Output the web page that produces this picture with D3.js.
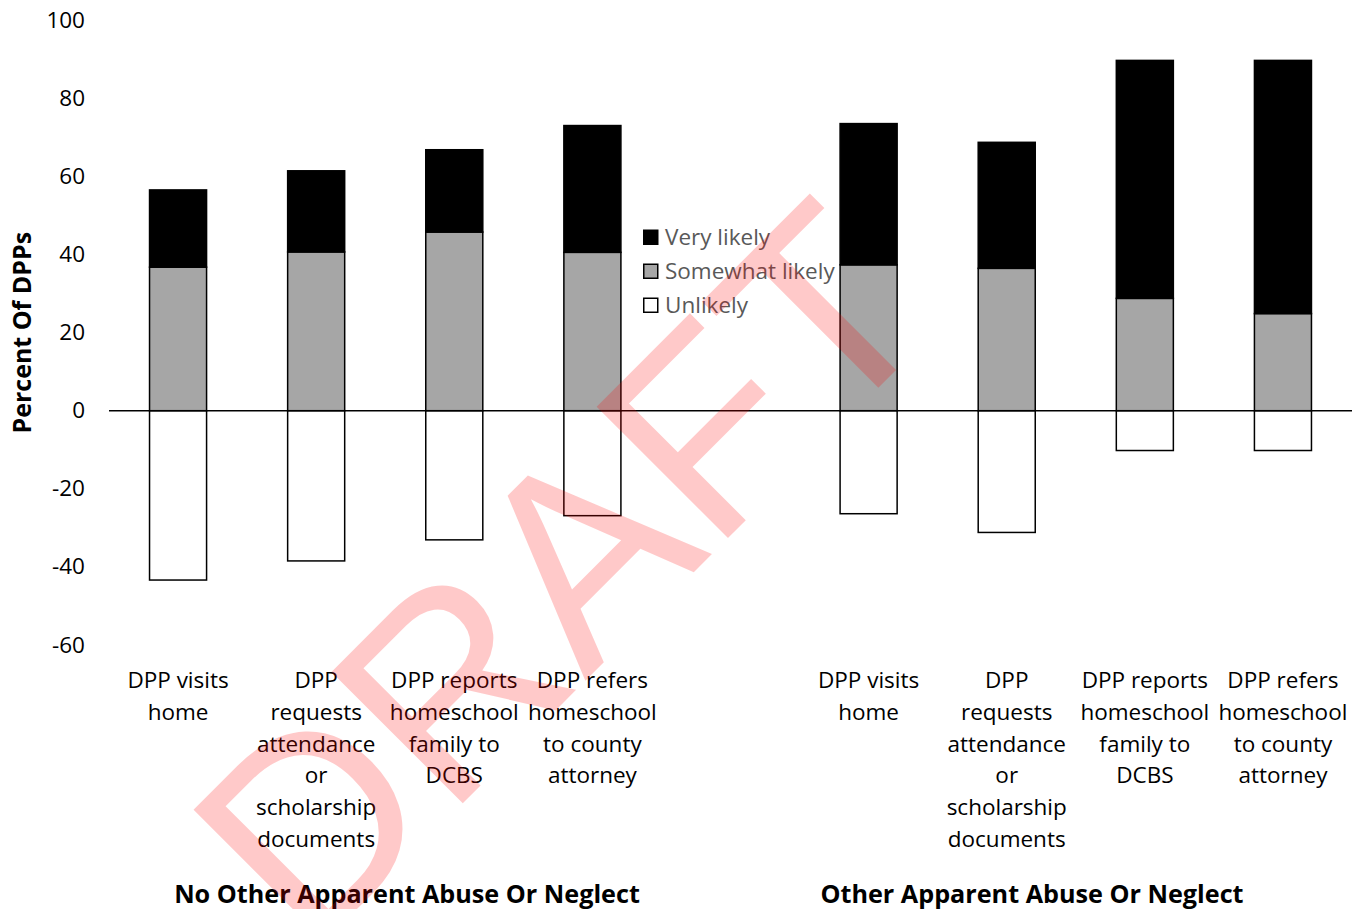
<!DOCTYPE html>
<html>
<head>
<meta charset="utf-8">
<script src="https://cdn.jsdelivr.net/npm/d3@7"></script>
<style>
  html, body { margin: 0; padding: 0; background: #fff; }
  svg { display: block; }
  text { font-family: "Open Sans", "Noto Sans", sans-serif; }
</style>
</head>
<body>
<svg id="chart" width="1367" height="909"></svg>
<script>
// Response categories (one per bar, each wrapped onto several lines)
const actionLabels = [
  ["DPP visits", "home"],
  ["DPP", "requests", "attendance", "or", "scholarship", "documents"],
  ["DPP reports", "homeschool", "family to", "DCBS"],
  ["DPP refers", "homeschool", "to county", "attorney"]
];
const groupNames = ["No Other Apparent Abuse Or Neglect", "Other Apparent Abuse Or Neglect"];
const seriesNames = ["Very likely", "Somewhat likely", "Unlikely"];

// Percent of DPPs, bars in order: group 1 (4 actions), then group 2 (4 actions)
const veryLikely     = [19.8, 20.8, 21.1, 32.5, 36.2, 32.3, 61.0, 64.9];
const somewhatLikely = [36.8, 40.7, 45.8, 40.6, 37.4, 36.5, 28.8, 24.9];
const unlikely       = [43.4, 38.5, 33.1, 26.9, 26.4, 31.2, 10.2, 10.2];

const yTicks = [-60, -40, -20, 0, 20, 40, 60, 80, 100];

const W = 1367, H = 909;
const plot = { left: 109, right: 1352, top: 20.6, bottom: 644.8 };

const svg = d3.select("#chart");

// Slots: 4 bars, one empty gap slot, 4 bars
const slots = [];
actionLabels.forEach((l, i) => slots.push({ key: "a" + i, group: 0, idx: i }));
slots.push({ key: "gap", group: -1 });
actionLabels.forEach((l, i) => slots.push({ key: "b" + i, group: 1, idx: i + 4 }));

const x = d3.scaleBand()
  .domain(slots.map(d => d.key))
  .range([plot.left, plot.right])
  .paddingInner(0.587)
  .paddingOuter(0.2935);

const y = d3.scaleLinear().domain([-60, 100]).range([plot.bottom, plot.top]);

// Rows for stacking: positive segments up, "Unlikely" below zero
const rows = slots.filter(s => s.group >= 0).map(s => ({
  key: s.key,
  "Somewhat likely": somewhatLikely[s.idx],
  "Very likely": veryLikely[s.idx],
  "Unlikely": -unlikely[s.idx]
}));

const stack = d3.stack()
  .keys(["Somewhat likely", "Very likely", "Unlikely"])
  .offset(d3.stackOffsetDiverging);
const layers = stack(rows);

const fills = { "Very likely": "#000000", "Somewhat likely": "#a6a6a6", "Unlikely": "#ffffff" };

// Y axis (labels only, plain hyphen for negatives)
const yAxis = svg.append("g")
  .attr("transform", `translate(${plot.left},0)`)
  .call(d3.axisLeft(y).tickValues(yTicks).tickSize(0).tickPadding(24).tickFormat(d => String(d)));
yAxis.select(".domain").remove();
yAxis.selectAll("text")
  .attr("font-size", 22.5)
  .attr("fill", "#000")
  .style("font-family", '"Open Sans", sans-serif');

// Bars
layers.forEach(layer => {
  svg.append("g").selectAll("rect")
    .data(layer)
    .join("rect")
    .attr("x", d => x(d.data.key))
    .attr("width", x.bandwidth())
    .attr("y", d => y(Math.max(d[0], d[1])))
    .attr("height", d => Math.abs(y(d[0]) - y(d[1])))
    .attr("fill", fills[layer.key])
    .attr("stroke", "#000")
    .attr("stroke-width", 1.5);
});

// Zero line
svg.append("line")
  .attr("x1", plot.left).attr("x2", plot.right)
  .attr("y1", y(0)).attr("y2", y(0))
  .attr("stroke", "#000").attr("stroke-width", 1.5);

// Category labels
const catG = svg.append("g");
slots.filter(s => s.group >= 0).forEach(s => {
  const lines = actionLabels[s.idx % 4];
  const t = catG.append("text")
    .attr("x", x(s.key) + x.bandwidth() / 2)
    .attr("y", 688.3)
    .attr("text-anchor", "middle")
    .attr("font-size", 22.5)
    .attr("fill", "#000");
  lines.forEach((ln, i) => {
    t.append("tspan")
      .attr("x", x(s.key) + x.bandwidth() / 2)
      .attr("dy", i === 0 ? 0 : 31.7)
      .text(ln);
  });
});

// Group labels
const groupCenters = [407, 1032];
groupNames.forEach((g, i) => {
  svg.append("text")
    .attr("x", groupCenters[i])
    .attr("y", 903)
    .attr("text-anchor", "middle")
    .attr("font-size", 25.2)
    .attr("font-weight", "bold")
    .attr("fill", "#000")
    .text(g);
});

// Y axis title
svg.append("text")
  .attr("transform", `translate(31,${(plot.top + plot.bottom) / 2}) rotate(-90)`)
  .attr("text-anchor", "middle")
  .attr("font-size", 25)
  .attr("font-weight", "bold")
  .attr("fill", "#000")
  .text("Percent Of DPPs");

// Legend
const legend = svg.append("g").attr("transform", "translate(643,229.5)");
seriesNames.forEach((name, i) => {
  const row = legend.append("g").attr("transform", `translate(0,${i * 34})`);
  row.append("rect")
    .attr("x", 0.75).attr("y", 0.75)
    .attr("width", 14).attr("height", 14)
    .attr("fill", fills[name])
    .attr("stroke", "#000").attr("stroke-width", 1.5);
  row.append("text")
    .attr("x", 22)
    .attr("y", 7.5)
    .attr("dy", "0.35em")
    .attr("font-size", 22.5)
    .attr("fill", "#595959")
    .text(name);
});

// DRAFT watermark
svg.append("text")
  .attr("transform", "translate(627.4,638.6) rotate(-45)")
  .attr("text-anchor", "middle")
  .style("font-family", '"Liberation Sans", Arial, sans-serif')
  .attr("font-size", 270)
  .attr("fill", "rgb(255,0,0)")
  .attr("fill-opacity", 0.21)
  .text("DRAFT");
</script>
</body>
</html>
